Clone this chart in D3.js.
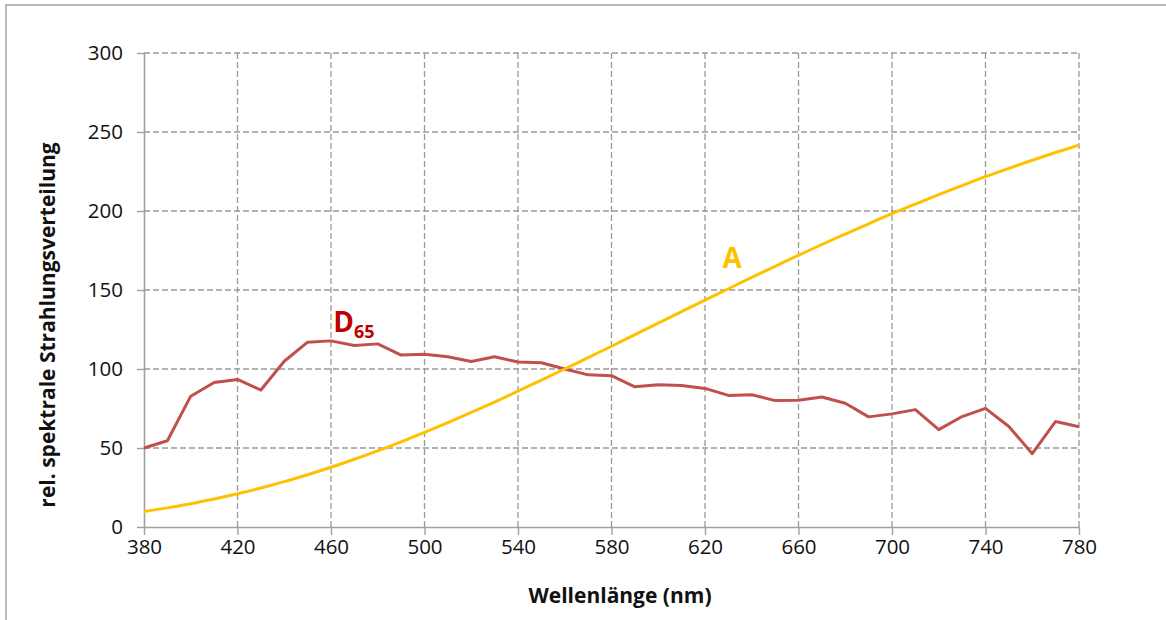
<!DOCTYPE html>
<html>
<head>
<meta charset="utf-8">
<script src="https://cdn.jsdelivr.net/npm/d3@7"></script>
<style>
  body { margin: 0; background: #fff; }
  svg { display: block; font-family: "Open Sans", "Noto Sans", sans-serif; }
</style>
</head>
<body>
<script>
// wavelengths in nm, 10 nm steps
var wavelengths = [380, 390, 400, 410, 420, 430, 440, 450, 460, 470, 480, 490, 500,
  510, 520, 530, 540, 550, 560, 570, 580, 590, 600, 610, 620, 630, 640, 650, 660,
  670, 680, 690, 700, 710, 720, 730, 740, 750, 760, 770, 780];

// illuminant D65
var d65 = [50.0, 54.6, 82.8, 91.5, 93.4, 86.7, 104.9, 117.0, 117.8, 114.9, 115.9, 108.8, 109.4,
  107.8, 104.8, 107.7, 104.4, 104.0, 100.0, 96.3, 95.8, 88.7, 90.0, 89.6, 87.7, 83.3, 83.7,
  80.0, 80.2, 82.3, 78.3, 69.7, 71.6, 74.3, 61.6, 69.9, 75.1, 63.6, 46.4, 66.8, 63.4];

// illuminant A
var illumA = [9.8, 12.1, 14.7, 17.7, 21.0, 24.7, 28.7, 33.1, 37.8, 42.9, 48.2, 53.9, 59.9,
  66.1, 72.5, 79.1, 86.0, 92.9, 100.0, 107.2, 114.4, 121.7, 129.0, 136.3, 143.6, 150.8, 158.0,
  165.0, 172.0, 178.8, 185.4, 191.9, 198.3, 204.4, 210.4, 216.1, 221.7, 227.0, 232.1, 237.0, 241.7];

var xTicks = [380, 420, 460, 500, 540, 580, 620, 660, 700, 740, 780];
var yTicks = [0, 50, 100, 150, 200, 250, 300];

var margin = {top: 53, right: 87, bottom: 93, left: 144},
    width = 1166 - margin.left - margin.right,
    height = 620 - margin.top - margin.bottom;

var x = d3.scaleLinear().domain([380, 780]).range([0, width]);
var y = d3.scaleLinear().domain([0, 300]).range([height, 0]);

var root = d3.select("body").append("svg")
    .attr("width", 1166)
    .attr("height", 620);

// outer chart border
root.append("rect")
    .attr("x", 6).attr("y", 5)
    .attr("width", 1200).attr("height", 700)
    .attr("fill", "none")
    .attr("stroke", "#a9a9a9")
    .attr("stroke-width", 1.6);

var svg = root.append("g")
    .attr("transform", "translate(" + margin.left + "," + margin.top + ")");

// dashed grid
svg.append("g").selectAll("line")
    .data(yTicks.slice(1))
    .enter().append("line")
    .attr("x1", 0).attr("x2", width)
    .attr("y1", function(d) { return y(d); })
    .attr("y2", function(d) { return y(d); })
    .attr("stroke", "#999")
    .attr("stroke-width", 1.3)
    .attr("stroke-dasharray", "6,3");

svg.append("g").selectAll("line")
    .data(xTicks.slice(1))
    .enter().append("line")
    .attr("y1", 0).attr("y2", height)
    .attr("x1", function(d) { return x(d); })
    .attr("x2", function(d) { return x(d); })
    .attr("stroke", "#999")
    .attr("stroke-width", 1.3)
    .attr("stroke-dasharray", "6,3");

// axes
var xAxis = svg.append("g")
    .attr("transform", "translate(0," + height + ")")
    .call(d3.axisBottom(x).tickValues(xTicks).tickSize(8).tickPadding(4).tickSizeOuter(0));

var yAxis = svg.append("g")
    .call(d3.axisLeft(y).tickValues(yTicks).tickSize(7).tickPadding(14).tickSizeOuter(0));

[xAxis, yAxis].forEach(function(a) {
  a.select(".domain").attr("stroke", "#a0a0a0").attr("stroke-width", 1.6);
  a.selectAll(".tick line").attr("stroke", "#a0a0a0").attr("stroke-width", 1.4);
  a.selectAll(".tick text")
      .attr("fill", "#111")
      .style("font-size", "20.5px")
      .style("font-family", "'Open Sans', sans-serif");
});
yAxis.selectAll(".tick text").attr("dy", "0.34em");

// lines
var lineA = d3.line()
    .x(function(d, i) { return x(wavelengths[i]); })
    .y(function(d) { return y(d); })
    .curve(d3.curveMonotoneX);

var lineD = d3.line()
    .x(function(d, i) { return x(wavelengths[i]); })
    .y(function(d) { return y(d); });

svg.append("path")
    .datum(d65)
    .attr("fill", "none")
    .attr("stroke", "#c0504d")
    .attr("stroke-width", 3)
    .attr("stroke-linejoin", "round")
    .attr("d", lineD);

svg.append("path")
    .datum(illumA)
    .attr("fill", "none")
    .attr("stroke", "#ffc000")
    .attr("stroke-width", 3)
    .attr("d", lineA);

// series labels
var dLabel = svg.append("text")
    .attr("x", x(461))
    .attr("y", y(123.5))
    .attr("fill", "#c00000")
    .style("font-size", "28px")
    .style("font-weight", "bold");
dLabel.append("tspan").text("D");
dLabel.append("tspan")
    .attr("dy", 6)
    .style("font-size", "18px")
    .text("65");

svg.append("text")
    .attr("x", x(627.5))
    .attr("y", y(164))
    .attr("fill", "#ffc000")
    .style("font-size", "28px")
    .style("font-weight", "bold")
    .text("A");

// x axis label
svg.append("text")
    .attr("x", 620 - margin.left)
    .attr("y", height + 76)
    .attr("text-anchor", "middle")
    .style("font-size", "21px")
    .style("font-weight", "bold")
    .attr("fill", "#111")
    .text("Wellenlänge (nm)");

// y axis label
svg.append("text")
    .attr("transform", "rotate(-90)")
    .attr("x", -(325 - margin.top))
    .attr("y", 55 - margin.left)
    .attr("text-anchor", "middle")
    .style("font-size", "21px")
    .style("font-weight", "bold")
    .attr("fill", "#111")
    .text("rel. spektrale Strahlungsverteilung");
</script>
</body>
</html>
